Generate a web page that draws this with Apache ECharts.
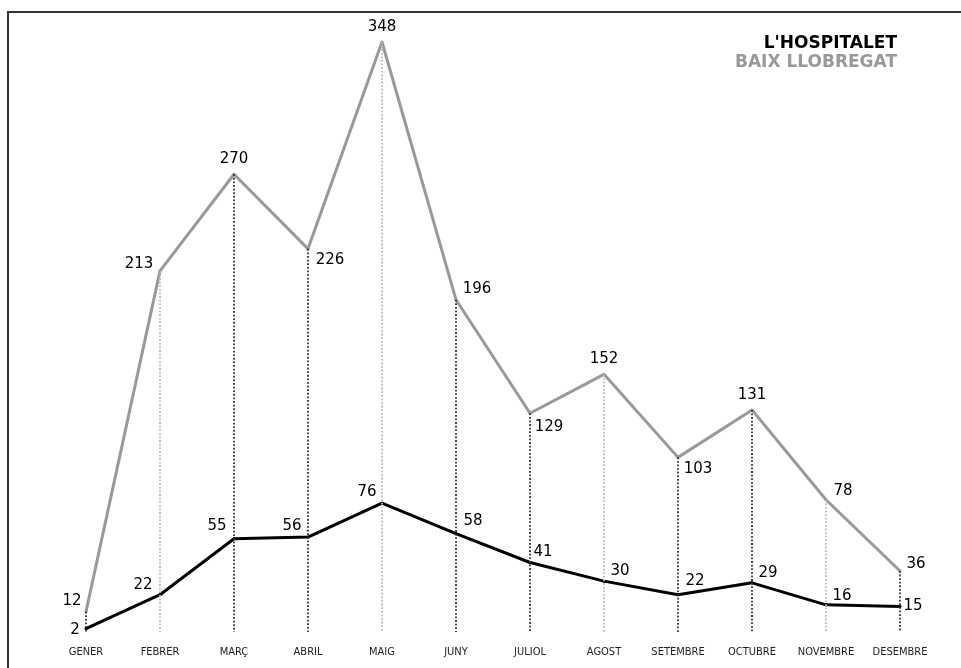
<!DOCTYPE html>
<html>
<head>
<meta charset="utf-8">
<script src="https://cdn.jsdelivr.net/npm/echarts@6/dist/echarts.min.js"></script>
<style>
html,body{margin:0;padding:0;background:#fff;}
#chart{width:961px;height:668px;}
</style>
</head>
<body>
<div id="chart"></div>
<script>
const months = ['GENER','FEBRER','MARÇ','ABRIL','MAIG','JUNY','JULIOL','AGOST','SETEMBRE','OCTUBRE','NOVEMBRE','DESEMBRE'];
const baixLlobregat = [12,213,270,226,348,196,129,152,103,131,78,36];
const hospitalet = [2,22,55,56,76,58,41,30,22,29,16,15];

// label placement (styling only)
const grayOffsets = [[-14,-11],[-21,-7],[0,-15],[22,11],[0,-15],[21,-11],[19,14],[0,-15],[20,12],[0,-15],[17,-9],[16,-7]];
const blackOffsets = [[-11,2],[-17,-10],[-17,-13],[-16,-11],[-15,-11],[17,-13],[13,-10],[16,-10],[17,-14],[16,-10],[16,-9],[13,0]];
const dropColors = ['#333','#bbb','#333','#333','#bbb','#333','#333','#bbb','#333','#333','#bbb','#333'];

const labelFont = {fontFamily:'DejaVu Sans', fontSize:15, color:'#000'};

const chart = echarts.init(document.getElementById('chart'));
chart.setOption({
  animation:false,
  backgroundColor:'#fff',
  grid:{left:86, right:61, top:42, bottom:36},
  legend:{
    orient:'vertical', right:59, top:35, align:'right', icon:'none', padding:0,
    itemWidth:0, itemHeight:15, itemGap:2, selectedMode:false,
    textStyle:{fontFamily:'DejaVu Sans', fontWeight:'bold', fontSize:17, lineHeight:15, padding:0},
    data:[
      {name:"L'HOSPITALET", textStyle:{color:'#000'}},
      {name:'BAIX LLOBREGAT', textStyle:{color:'#999'}}
    ]
  },
  xAxis:{
    type:'category', data:months, boundaryGap:false,
    axisLine:{show:false}, axisTick:{show:false}, splitLine:{show:false},
    axisLabel:{margin:15, fontFamily:'Liberation Sans Narrow, DejaVu Sans Condensed, sans-serif', fontSize:11, color:'#222', interval:0}
  },
  yAxis:{type:'value', min:0, max:348, show:false, splitLine:{show:false}},
  graphic:[
    {type:'polyline', silent:true, shape:{points:[[8,668],[8,12],[961,12]]}, style:{stroke:'#333', lineWidth:2, fill:null}}
  ],
  series:[
    {
      name:'BAIX LLOBREGAT', type:'line', clip:false, z:2,
      symbol:'circle', symbolSize:3,
      itemStyle:{color:'#999'},
      lineStyle:{color:'#999', width:3},
      emphasis:{disabled:true},
      data: baixLlobregat.map((v,i)=>({value:v, label:{show:true, position:'inside', offset:grayOffsets[i], ...labelFont}})),
      markLine:{
        silent:true, symbol:['none','none'], label:{show:false},
        data: baixLlobregat.map((v,i)=>[
          {coord:[i, v], lineStyle:{type:'dotted', width:1.8, color:dropColors[i]}},
          {coord:[i, 0]}
        ])
      }
    },
    {
      name:"L'HOSPITALET", type:'line', clip:false, z:3,
      symbol:'circle', symbolSize:3,
      itemStyle:{color:'#000'},
      lineStyle:{color:'#000', width:3},
      emphasis:{disabled:true},
      data: hospitalet.map((v,i)=>({value:v, label:{show:true, position:'inside', offset:blackOffsets[i], ...labelFont}}))
    }
  ]
});
</script>
</body>
</html>
